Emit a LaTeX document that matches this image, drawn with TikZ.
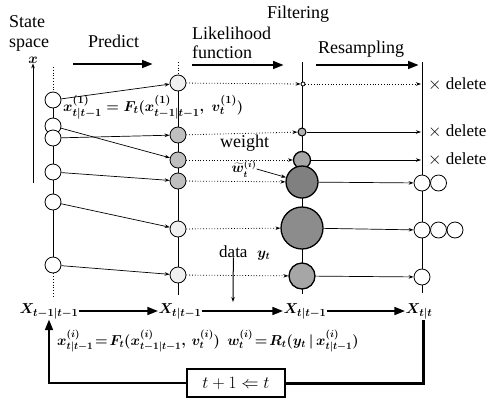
\documentclass[tikz,border=0pt]{standalone}
\usepackage{fontspec}
\setmainfont{Liberation Serif}
\usetikzlibrary{arrows.meta,backgrounds}
\begin{document}
\begin{tikzpicture}[x=1pt,y=-1pt,
  pc/.style={circle,draw,line width=0.8pt,inner sep=0pt,minimum size=16pt,fill=white},
  fc/.style={circle,draw,line width=1.3pt,inner sep=0pt,fill=black!40},
  tip/.style={-{Stealth[length=5pt,width=3.5pt]}},
  sarr/.style={tip,line width=0.7pt},
  darr/.style={tip,line width=0.8pt,dotted},
  big/.style={line width=2.8pt,-{Triangle[length=11pt,width=7.5pt]}},
  lbl/.style={font=\fontsize{18}{20}\selectfont,inner sep=0pt,anchor=base west},
  dl/.style={font=\fontsize{17}{19}\selectfont,inner sep=0pt,anchor=west},
  eq/.style={font=\fontsize{14.5}{16}\selectfont\boldmath,inner sep=0pt},
  xl/.style={font=\fontsize{15}{17}\selectfont\boldmath,inner sep=0pt},
  ]
\useasboundingbox (0,0) rectangle (486,399);

% ---- headings
\node[lbl] (state) at (9,27) {State};
\node[lbl] (space) at (9,47) {space};
\node[lbl] (pred) at (88,47) {Predict};
\node[lbl] (lik) at (192,39) {Likelihood};
\node[lbl] (fun) at (192,58) {function};
\node[lbl] (filt) at (267,18) {Filtering};
\node[lbl] (res) at (318,53) {Resampling};

\coordinate (a1) at (73,64);  \coordinate (a2) at (153,64);
\coordinate (b1) at (192,65); \coordinate (b2) at (284,65);
\coordinate (c1) at (316,65); \coordinate (c2) at (419,65);
\draw[big] (a1) -- (a2);
\draw[big] (b1) -- (b2);
\draw[big] (c1) -- (c2);

% ---- state axis
\node[xl] (xax) at (33,60) {$x$};
\coordinate (ax0) at (33,183);
\draw[sarr] (ax0) -- (xax.south);

% ---- left column
\node[pc] (L1) at (53,100) {};
\node[pc] (L2) at (53,126) {};
\node[pc] (L3) at (53,138) {};
\node[pc] (L4) at (53,172) {};
\node[pc] (L5) at (53,202) {};
\node[pc] (L6) at (53,265) {};

% ---- predict column
\node[pc,fill=black!6]  (P1) at (178,83) {};
\node[pc,fill=black!25] (P2) at (178,135) {};
\node[pc,fill=black!25] (P3) at (178,160) {};
\node[pc,fill=black!25] (P4) at (178,181) {};
\node[pc,fill=black!6]  (P5) at (178,229) {};
\node[pc,fill=black!6]  (P6) at (178,275) {};

% ---- filtering column
\node[circle,draw,line width=0.8pt,inner sep=0pt,minimum size=4pt,fill=white] (F1) at (303,84) {};
\node[fc,line width=1pt,minimum size=8pt,fill=black!30] (F2) at (302,132) {};
\node[fc,minimum size=17pt,fill=black!35] (F3) at (302,160) {};
\node[fc,minimum size=32pt,fill=black!50] (F4) at (302,182) {};
\node[fc,minimum size=42pt,fill=black!45] (F5) at (302,228) {};
\node[fc,minimum size=26pt,fill=black!35] (F6) at (302,276) {};

% ---- resampling column
\node[pc] (R1) at (422,183) {};
\node[pc] (R1b) at (438.5,183) {};
\node[pc] (R2) at (422,230) {};
\node[pc] (R2b) at (438.5,230) {};
\node[pc] (R2c) at (455,230) {};
\node[pc] (R3) at (422,277) {};
\coordinate (d1) at (421,84);
\coordinate (d2) at (421,132);
\coordinate (d3) at (421,160);

\node[dl] (del1) at (428,84) {$\times$ delete};
\node[dl] (del2) at (428,131) {$\times$ delete};
\node[dl] (del3) at (428,159) {$\times$ delete};

% ---- vertical lines
\begin{scope}[on background layer]
\coordinate (lt) at (53,67);  \coordinate (lb) at (53,297);
\coordinate (pt) at (178,62); \coordinate (pb) at (178,295);
\coordinate (ft) at (302,62); \coordinate (fb) at (302,294);
\coordinate (rt) at (422,62); \coordinate (rb) at (422,293);
\draw[dotted,line width=0.8pt] (lt) -- (L1);
\draw[line width=0.8pt] (L1) -- (L6);
\draw[dotted,line width=0.8pt] (L6) -- (lb);
\draw[dotted,line width=0.8pt] (pt) -- (P1);
\draw[line width=0.8pt] (P1) -- (P6);
\draw[line width=0.8pt] (P6) -- (pb);
\draw[line width=1pt] (ft) -- (fb);
\draw[line width=1pt] (rt) -- (rb);
\end{scope}

% ---- predict arrows
\draw[sarr] (L1) -- (P1);
\draw[sarr] (L2) -- (P3);
\draw[sarr] (L3) -- (P2);
\draw[sarr] (L4) -- (P4);
\draw[sarr] (L5) -- (P5);
\draw[sarr] (L6) -- (P6);

% ---- likelihood arrows
\draw[darr] (P1) -- (F1);
\draw[darr] (P2) -- (F2);
\draw[darr] (P3) -- (F3);
\draw[darr] (P4) -- (F4);
\draw[darr] (P5) -- (F5);
\draw[darr] (P6) -- (F6);

% ---- resampling arrows
\draw[darr] (F1) -- (d1);
\draw[sarr] (F2) -- (d2);
\draw[sarr] (F3) -- (d3);
\draw[sarr] (F4) -- (R1);
\draw[sarr] (F5) -- (R2);
\draw[sarr] (F6) -- (R3);

% ---- inner labels
\node[eq,font=\fontsize{15}{17}\selectfont\boldmath,anchor=west] (eq1) at (63,107) {$x^{(1)}_{t|t-1}=F_t(x^{(1)}_{t-1|t-1},\;v^{(1)}_t)$};
\node[lbl] (wt) at (220,147) {weight};
\node[eq,font=\fontsize{13.5}{15}\selectfont\boldmath] (wtil) at (244,169) {$\widetilde{w}^{(i)}_t$};
\draw[sarr] (wtil.east) -- (F4);
\node[lbl,font=\fontsize{17}{19}\selectfont] (data) at (219,257) {data};
\node[eq,anchor=base west] (yt) at (257,257) {$y_t$};
\coordinate (dtip) at (233,302);
\draw[sarr,line width=1pt] (data.south) -- (dtip);

% ---- bottom row
\node[xl] (X0) at (49,311) {$X_{t-1|t-1}$};
\node[xl] (X1) at (180,311) {$X_{t|t-1}$};
\node[xl] (X2) at (305,311) {$X_{t|t-1}$};
\node[xl] (X3) at (419,311) {$X_{t|t}$};
\draw[big] (X0.east) -- (X1.west);
\draw[big] (X1.east) -- (X2.west);
\draw[big] (X2.east) -- (X3.west);

\node[eq,anchor=west] (eq2) at (57,341) {$x^{(i)}_{t|t-1}\!=\!F_t(x^{(i)}_{t-1|t-1},\,v^{(i)}_t)\ \ w^{(i)}_t\!=\!R_t(y_t\,|\,x^{(i)}_{t|t-1})$};

\node[draw,line width=1.2pt,minimum width=98pt,minimum height=28pt,inner sep=0pt,
      font=\fontsize{16}{18}\selectfont] (box) at (236,383) {$t+1\Leftarrow t$};
\coordinate (lr) at (423,320);
\draw[line width=3pt] (lr) |- (box.east);
\draw[big] (box.west) -| (X0.south);
\end{tikzpicture}
\end{document}
